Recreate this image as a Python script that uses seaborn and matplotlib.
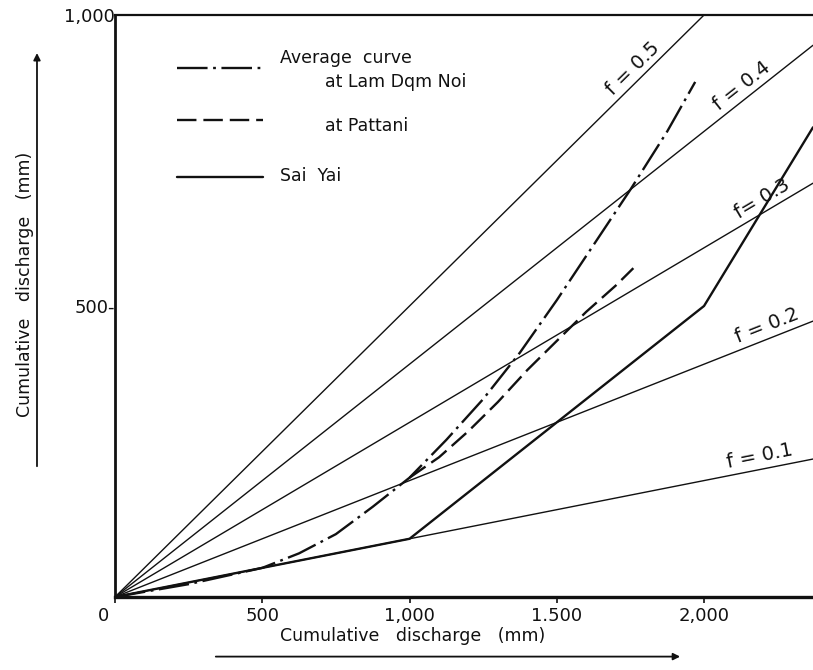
import numpy as np
import matplotlib
matplotlib.use("Agg")
import matplotlib.pyplot as plt
from matplotlib.patches import FancyArrowPatch
import seaborn as sns

# Runoff coefficient lines: cumulative discharge = f * cumulative rainfall
f_values = [0.1, 0.2, 0.3, 0.4, 0.5]
f_labels = ["f = 0.1", "f = 0.2", "f= 0.3", "f = 0.4", "f = 0.5"]
f_label_x = [2195, 2225, 2215, 2150, 1780]

# Average curve at Lam Dam Noi
lam_dam_noi_x = [0, 250, 500, 625, 750, 875, 1000, 1125, 1250, 1375, 1500, 1625, 1750, 1875, 1970]
lam_dam_noi_y = [0, 22, 50, 75, 108, 155, 205, 270, 340, 420, 510, 605, 700, 800, 885]

# Average curve at Pattani
pattani_x = [1000, 1100, 1200, 1300, 1400, 1500, 1600, 1700, 1760]
pattani_y = [205, 240, 285, 335, 390, 440, 490, 535, 565]

# Sai Yai
sai_yai_x = [0, 1000, 2000, 2370]
sai_yai_y = [0, 100, 500, 807]

x_ticks = [0, 500, 1000, 1500, 2000]
x_tick_labels = ["", "500", "1,000", "1.500", "2,000"]
origin_label = "0"
y_ticks = [500, 1000]
y_tick_labels = ["500-", "1,000"]

x_max = 2370
y_max = 1000

sns.set_style("ticks")
plt.rcParams["font.family"] = ["DejaVu Sans"]
plt.rcParams["lines.scale_dashes"] = False

fig = plt.figure(figsize=(8.13, 6.70), dpi=100)
ax = fig.add_axes([0.1415, 0.109, 0.8585, 0.8686])

ink = "#111111"
dash_dot = (0, (22, 4, 2, 4))
dashed = (0, (14, 5))

# f lines through the origin
for f in f_values:
    xs = np.array([0.0, x_max])
    sns.lineplot(x=xs, y=f * xs, ax=ax, color=ink, lw=1.0,
                 estimator=None, sort=False, legend=False)

sns.lineplot(x=sai_yai_x, y=sai_yai_y, ax=ax, color=ink, lw=1.7,
             estimator=None, sort=False, legend=False)
sns.lineplot(x=lam_dam_noi_x, y=lam_dam_noi_y, ax=ax, color=ink, lw=1.7,
             estimator=None, sort=False, legend=False)
ax.lines[-1].set_linestyle(dash_dot)
sns.lineplot(x=pattani_x, y=pattani_y, ax=ax, color=ink, lw=1.7,
             estimator=None, sort=False, legend=False)
ax.lines[-1].set_linestyle(dashed)

# labels along the f lines
for f, lab, lx in zip(f_values, f_labels, f_label_x):
    ax.text(lx, f * lx + 6, lab, fontsize=14, color=ink,
            rotation=np.degrees(np.arctan(f)), rotation_mode="anchor",
            transform_rotates_text=True, ha="center", va="bottom",
            clip_on=False)

ax.set_xlim(0, x_max)
ax.set_ylim(0, y_max)
ax.set_xticks(x_ticks)
ax.set_xticklabels(x_tick_labels)
ax.set_yticks(y_ticks)
ax.set_yticklabels(y_tick_labels)
ax.tick_params(axis="both", labelsize=13, colors=ink, length=4, width=1.2, pad=3)
ax.tick_params(axis="y", length=0, pad=0)
ax.set_xlabel("")
ax.set_ylabel("")

# shared origin label, set a little left of the corner
ax.annotate(origin_label, xy=(0, 0), xytext=(-8, -7), textcoords="offset points",
            fontsize=13, color=ink, ha="center", va="top", annotation_clip=False)

for side in ["left", "bottom", "top"]:
    ax.spines[side].set_visible(True)
    ax.spines[side].set_color(ink)
ax.spines["left"].set_linewidth(2.0)
ax.spines["bottom"].set_linewidth(2.4)
ax.spines["top"].set_linewidth(1.6)
ax.spines["right"].set_visible(False)

# key
tA = ax.transAxes
ax.plot([0.089, 0.212], [0.909, 0.909], transform=tA, color=ink, lw=1.7,
        ls=dash_dot, clip_on=False)
ax.plot([0.089, 0.212], [0.820, 0.820], transform=tA, color=ink, lw=1.7,
        ls=dashed, clip_on=False)
ax.plot([0.089, 0.212], [0.722, 0.722], transform=tA, color=ink, lw=1.7,
        clip_on=False)
ax.text(0.236, 0.926, "Average  curve", transform=tA, fontsize=12.5,
        color=ink, va="center", ha="left")
ax.text(0.301, 0.885, "at Lam Dqm Noi", transform=tA, fontsize=12.5,
        color=ink, va="center", ha="left")
ax.text(0.301, 0.810, "at Pattani", transform=tA, fontsize=12.5,
        color=ink, va="center", ha="left")
ax.text(0.236, 0.724, "Sai  Yai", transform=tA, fontsize=12.5,
        color=ink, va="center", ha="left")

# axis titles with arrow underlines
fig.text(0.507, 0.051, "Cumulative   discharge   (mm)", fontsize=12.5,
         color=ink, ha="center", va="center")
fig.add_artist(FancyArrowPatch((0.262, 0.020), (0.84, 0.020),
                               transform=fig.transFigure, arrowstyle="-|>",
                               mutation_scale=10, lw=1.3, color=ink))
fig.text(0.031, 0.575, "Cumulative   discharge   (mm)", fontsize=12.5,
         color=ink, ha="center", va="center", rotation=90)
fig.add_artist(FancyArrowPatch((0.0455, 0.30), (0.0455, 0.925),
                               transform=fig.transFigure, arrowstyle="-|>",
                               mutation_scale=10, lw=1.3, color=ink))

fig.savefig("out.png", dpi=100, facecolor="white")
